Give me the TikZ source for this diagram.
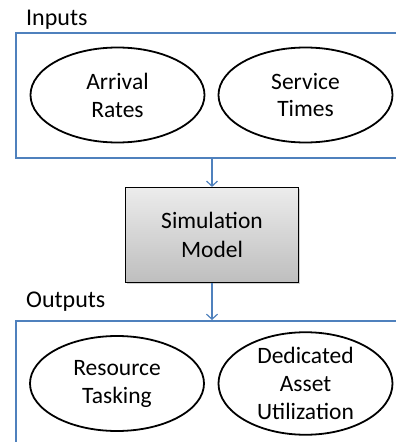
\documentclass[tikz,border=0pt]{standalone}
\usepackage{fontspec}
\setmainfont{Carlito}
\usetikzlibrary{shapes.geometric,arrows.meta,shadows}
\definecolor{boxblue}{RGB}{79,129,189}
\definecolor{gtop}{RGB}{236,236,236}
\definecolor{gbot}{RGB}{190,190,190}
\tikzset{
  groupbox/.style={draw=boxblue, line width=2pt, anchor=north west, inner sep=0pt},
  oval/.style={ellipse, draw=black, line width=1.8pt, minimum width=174pt, minimum height=95pt, inner sep=0pt, align=center, font=\fontsize{23.5}{28}\selectfont},
  modelbox/.style={draw=black, line width=1.2pt, fill=gtop, top color=gtop, bottom color=gbot, minimum width=173pt, minimum height=95pt, inner sep=0pt, align=center, font=\fontsize{23.5}{28.5}\selectfont, drop shadow={shadow xshift=1.5pt, shadow yshift=-1.5pt, opacity=0.35}},
  grouplabel/.style={anchor=base west, inner sep=0pt, font=\fontsize{24}{28}\selectfont},
  flow/.style={draw=boxblue, line width=1.2pt, -{Straight Barb[length=5pt,width=11pt,line width=1.2pt]}}
}
\begin{document}
\begin{tikzpicture}[x=1pt,y=-1pt]
\useasboundingbox (0,0) rectangle (396,442);
\clip (0,0) rectangle (396,442);
\node[groupbox, minimum width=400pt, minimum height=125pt] (inbox) at (15,32) {};
\node[groupbox, minimum width=400pt, minimum height=140pt] (outbox) at (15,320) {};
\node[grouplabel] (inlabel) at (26,25) {Inputs};
\node[grouplabel] (outlabel) at (26,307) {Outputs};
\node[oval] (arr) at (117.5,95) {Arrival\\Rates};
\node[oval] (svc) at (305.5,95) {Service\\Times};
\node[modelbox] (sim) at (212,235) {Simulation\\Model};
\node[oval] (res) at (117,383.5) {Resource\\Tasking};
\node[oval] (ded) at (305.5,383.5) {Dedicated\\Asset\\Utilization};
\draw[flow] (inbox.south -| sim.north) -- (sim.north);
\draw[flow] (sim.south) -- (outbox.north -| sim.south);
\end{tikzpicture}
\end{document}
